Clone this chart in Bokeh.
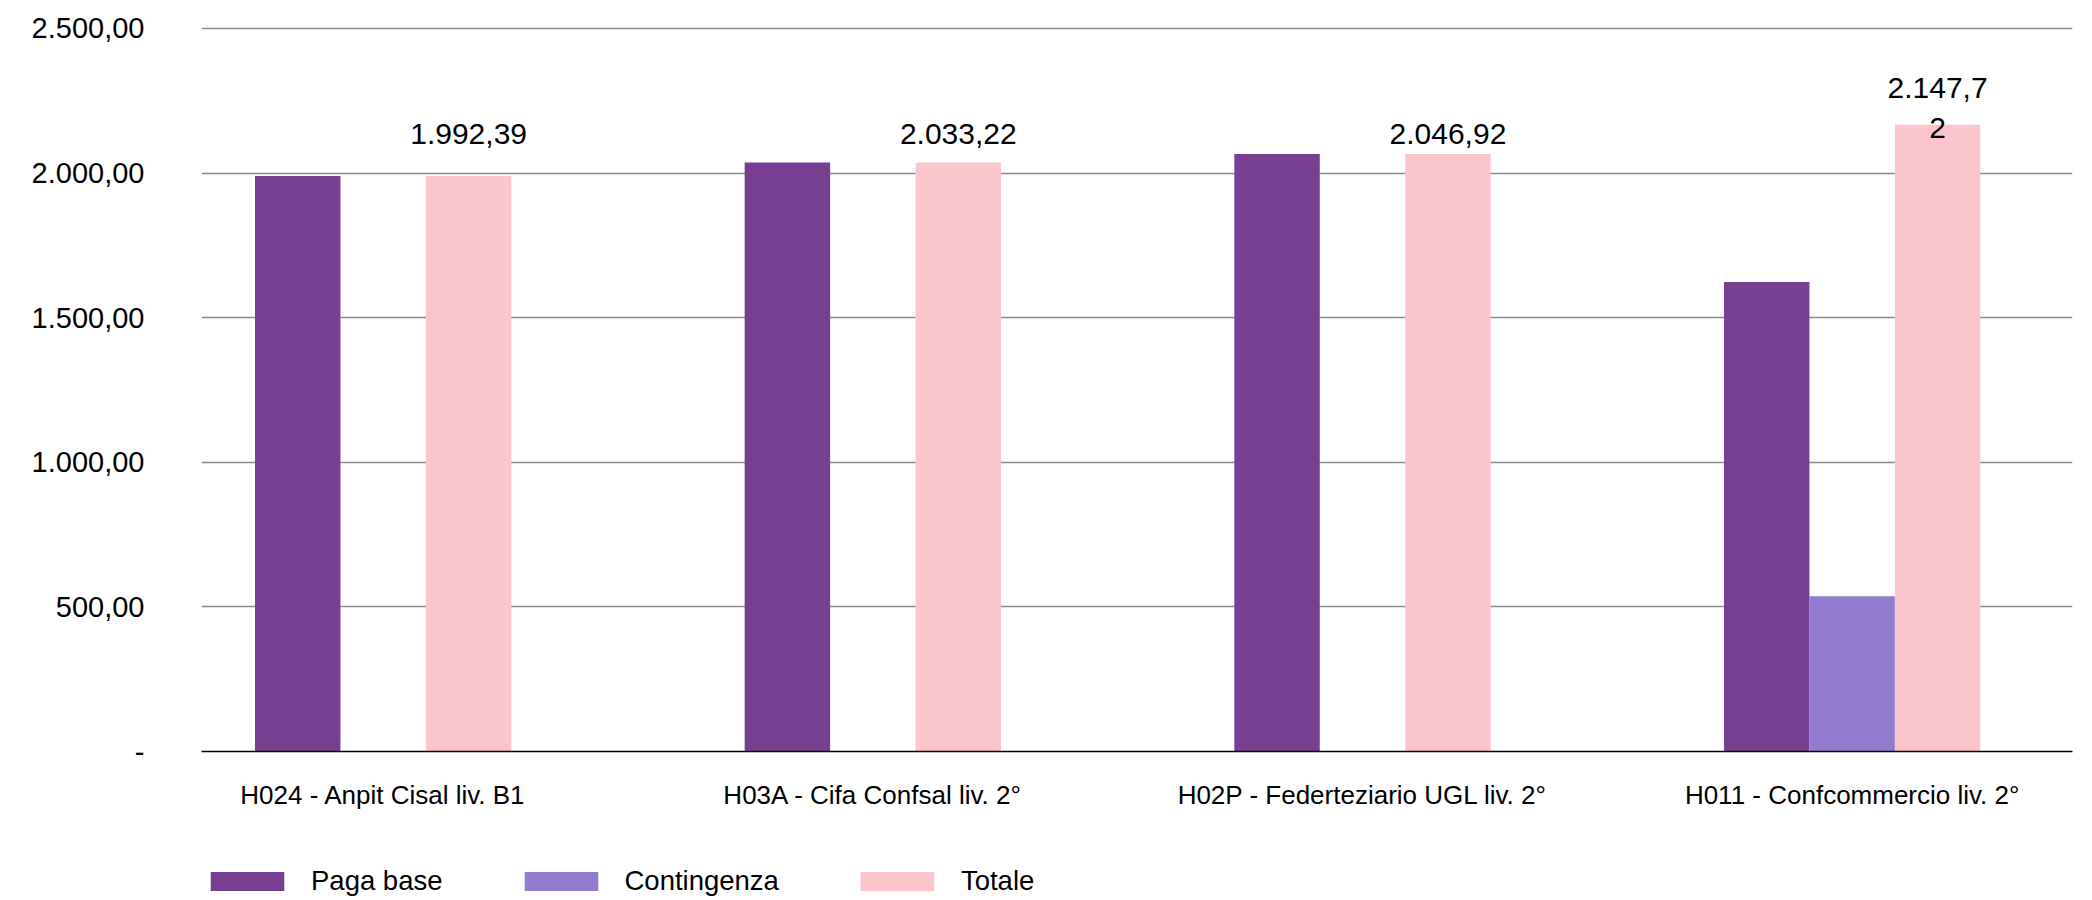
import numpy as np
from bokeh.plotting import figure
from bokeh.layouts import column
from bokeh.models import Range1d, FixedTicker, Legend, LegendItem
from bokeh.core.properties import value
from bokeh.embed import file_html
from bokeh.resources import INLINE

# ---- data ----
categories = [
    "H024 - Anpit Cisal liv. B1",
    "H03A - Cifa Confsal liv. 2°",
    "H02P - Federteziario UGL liv. 2°",
    "H011 - Confcommercio liv. 2°",
]
series_names = ["Paga base", "Contingenza", "Totale"]
paga_base = [1990, 2036, 2066, 1623]
contingenza = [0, 0, 0, 537]
totale = [1990, 2036, 2066, 2167]
totale_labels = ["1.992,39", "2.033,22", "2.046,92", "2.147,7\n2"]
y_ticks = [0, 500, 1000, 1500, 2000, 2500]

colors = ["#783f91", "#937ccf", "#fcc5cc"]
FONT = "Liberation Sans"


def it_fmt(v):
    if v == 0:
        return "-"
    s = f"{v:,.2f}"
    return s.replace(",", "X").replace(".", ",").replace("X", ".")


W = 2092
H_MAIN, H_LEG = 850, 50
X0, X1 = -0.371, 3.450
p = figure(width=W, height=H_MAIN, output_backend="svg", toolbar_location=None,
           x_range=Range1d(X0, X1), y_range=Range1d(0, 2510),
           min_border_left=201, min_border_right=20,
           min_border_top=25, min_border_bottom=H_MAIN - 751)
p.outline_line_color = None
p.background_fill_color = "white"
p.border_fill_color = "white"

idx = np.arange(len(categories))
bw = 0.1745
offsets = [-bw, 0.0, bw]
series = [paga_base, contingenza, totale]
for vals, off, col in zip(series, offsets, colors):
    p.vbar(x=idx + off, top=vals, bottom=0, width=bw,
           fill_color=col, line_color=None)

# data labels on Totale
p.text(x=idx + offsets[2], y=[2102] * len(idx), text=totale_labels,
       text_align="center", text_baseline="bottom",
       text_font=value(FONT), text_font_size="30px", text_color="black")

# axes
p.yaxis.ticker = FixedTicker(ticks=y_ticks)
p.yaxis.major_label_overrides = {t: it_fmt(t) for t in y_ticks}
p.yaxis.axis_line_color = None
p.yaxis.major_tick_line_color = None
p.yaxis.minor_tick_line_color = None
p.yaxis.major_label_standoff = 51
p.yaxis.major_label_text_font = FONT
p.yaxis.major_label_text_font_size = "29px"
p.yaxis.major_label_text_color = "black"

p.xaxis.ticker = FixedTicker(ticks=list(idx))
p.xaxis.major_label_overrides = {int(i): c for i, c in zip(idx, categories)}
p.xaxis.axis_line_color = "black"
p.xaxis.axis_line_width = 1.5
p.xaxis.major_tick_line_color = None
p.xaxis.minor_tick_line_color = None
p.xaxis.major_label_standoff = 22
p.xaxis.major_label_text_font = FONT
p.xaxis.major_label_text_font_size = "26px"
p.xaxis.major_label_text_color = "black"

p.xgrid.visible = False
p.ygrid.grid_line_color = "#8a8a8a"
p.ygrid.grid_line_width = 1.3

# ---- legend strip (same series, drawn below its visible y range) ----
lg = figure(width=W, height=H_LEG, output_backend="svg", toolbar_location=None,
            x_range=Range1d(X0, X1), y_range=Range1d(5000, 6000),
            min_border_left=0, min_border_right=0, min_border_top=0, min_border_bottom=0)
lg.outline_line_color = None
lg.axis.visible = False
lg.grid.visible = False
lg.border_fill_color = "white"
lg.background_fill_color = "white"
leg_renderers = [lg.vbar(x=idx + off, top=vals, width=bw, fill_color=c, line_color=None)
                 for vals, off, c in zip(series, offsets, colors)]

legend = Legend(
    items=[LegendItem(label=n, renderers=[r]) for n, r in zip(series_names, leg_renderers)],
    orientation="horizontal", location=(0, 3),
    glyph_width=92, glyph_height=24, label_standoff=18, spacing=72,
    padding=0, margin=0, border_line_color=None, background_fill_alpha=0,
    label_text_font=FONT, label_text_font_size="27.5px", label_text_color="black",
)
lg.add_layout(legend)

open("out.html", "w").write(file_html(column(p, lg, spacing=0), INLINE))
